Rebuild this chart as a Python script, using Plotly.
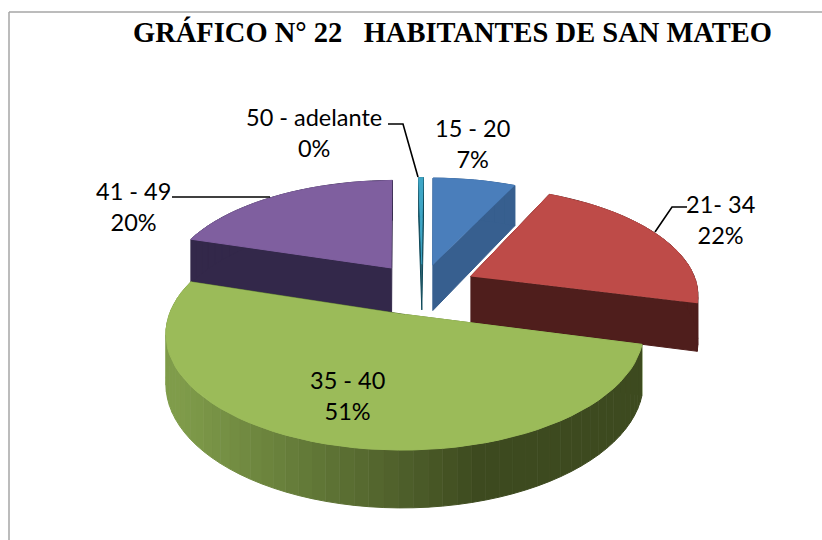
import math
import plotly.graph_objects as go

categories = ["15 - 20", "21- 34", "35 - 40", "41 - 49", "50 - adelante"]
values = [6.9, 22.0, 50.8, 19.9, 0.4]
pulls = [0.22, 0.24, 0.26, 0.23, 0.22]
top_colors = ["#4a7ebb", "#be4b48", "#9bbb59", "#7f5f9f", "#3ea6c6"]
wall_colors = ["#375f8f", "#4f1e1c", "#5f7a38", "#33284a", "#0f4a5a"]
label_x = [472, 720, 347, 133, 314]
label_y = [143, 219, 395, 206, 132]
title = "GRÁFICO N° 22   HABITANTES DE SAN MATEO"

CX, CY, R, K, P, D = 422, 287, 227, 106, 0.15, 47
ROT = 0.5


def project(theta, rho, pull_angle, pull, z):
    px = rho * math.sin(theta) + pull * math.sin(pull_angle)
    py = -rho * math.cos(theta) - pull * math.cos(pull_angle)
    s = 1 / (1 - P * py)
    return CX + R * px * s, CY + K * py * s + D * z * s


def lerp_hex(a, b, t):
    ca = [int(a[i:i + 2], 16) for i in (1, 3, 5)]
    cb = [int(b[i:i + 2], 16) for i in (1, 3, 5)]
    return "#%02x%02x%02x" % tuple(round(x + (y - x) * t) for x, y in zip(ca, cb))


fig = go.Figure()


def poly(points, color):
    fig.add_trace(go.Scatter(x=[p[0] for p in points], y=[p[1] for p in points],
                             mode="lines", fill="toself", fillcolor=color,
                             line=dict(color=color, width=1),
                             hoverinfo="skip", showlegend=False))


total = sum(values)
spans = []
acc = math.radians(ROT)
for v in values:
    a1 = acc + v / total * 2 * math.pi
    spans.append((acc, a1))
    acc = a1

order = [3, 4, 0, 1, 2]
for i in order:
    a0, a1 = spans[i]
    mid = (a0 + a1) / 2
    pull = pulls[i]
    n = max(4, int((a1 - a0) / math.radians(3)))
    angles = [a0 + (a1 - a0) * j / n for j in range(n + 1)]
    for a in (a0, a1):
        poly([project(mid, 0, mid, pull, 0), project(a, 1, mid, pull, 0),
              project(a, 1, mid, pull, 1), project(mid, 0, mid, pull, 1)], wall_colors[i])
    for j in range(n):
        b0, b1 = angles[j], angles[j + 1]
        c = wall_colors[i]
        if i == 2:
            xm = project((b0 + b1) / 2, 1, mid, pull, 0)[0]
            c = lerp_hex("#7f9c4a", "#3d4a1f", min(1, max(0, (xm - 180) / 300)))
        poly([project(b0, 1, mid, pull, 0), project(b1, 1, mid, pull, 0),
              project(b1, 1, mid, pull, 1), project(b0, 1, mid, pull, 1)], c)
    poly([project(mid, 0, mid, pull, 0)] + [project(a, 1, mid, pull, 0) for a in angles], top_colors[i])

leaders = [
    ([388, 403, 418], [124, 124, 177]),
    ([172, 270], [197, 197]),
    ([687, 672, 655], [207, 207, 232]),
]
for lx, ly in leaders:
    fig.add_trace(go.Scatter(x=lx, y=ly, mode="lines", line=dict(color="#000000", width=1.6),
                             hoverinfo="skip", showlegend=False))

annotations = []
for name, v, x, y in zip(categories, values, label_x, label_y):
    annotations.append(dict(x=x, y=y, xref="x", yref="y", showarrow=False, align="center",
                            text=f"{name}<br>{round(v)}%",
                            font=dict(family="Lato", size=23.5, color="#000000")))
annotations.append(dict(x=452, y=32, xref="x", yref="y", showarrow=False, text="<b>" + title + "</b>",
                        font=dict(family="Liberation Serif", size=28.5, color="#000000")))

fig.update_layout(
    width=822, height=540, margin=dict(l=0, r=0, t=0, b=0),
    paper_bgcolor="#ffffff", plot_bgcolor="#ffffff",
    xaxis=dict(range=[0, 822], visible=False, fixedrange=True),
    yaxis=dict(range=[540, 0], visible=False, fixedrange=True),
    annotations=annotations,
    shapes=[dict(type="line", xref="x", yref="y", x0=9, y0=12, x1=9, y1=540,
                 line=dict(color="#a6a6a6", width=1.5)),
            dict(type="line", xref="x", yref="y", x0=9, y0=12, x1=822, y1=12,
                 line=dict(color="#a6a6a6", width=1.5))],
)
fig.write_html("out.html", config={"displayModeBar": False},
               post_script="document.body.style.margin='0';")
